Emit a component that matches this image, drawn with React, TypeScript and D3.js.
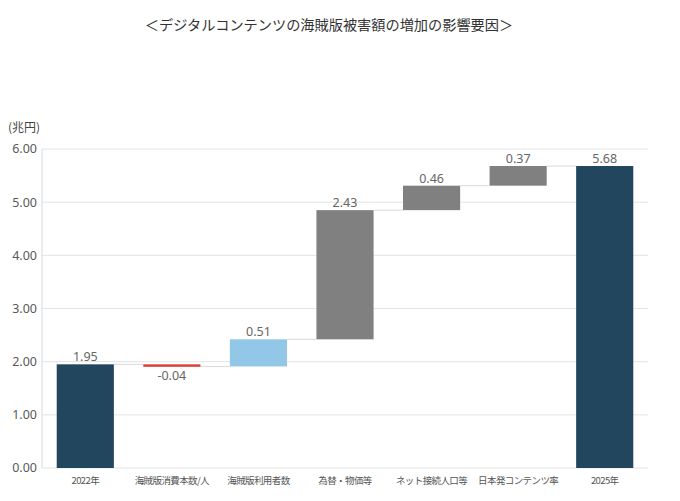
import { useEffect } from "react";
import * as d3 from "d3";

const categories = ["2022年", "海賊版消費本数/人", "海賊版利用者数", "為替・物価等", "ネット接続人口等", "日本発コンテンツ率", "2025年"];
const deltas = [1.95, -0.04, 0.51, 2.43, 0.46, 0.37, 5.68];
const kinds = ["total", "delta", "delta", "delta", "delta", "delta", "total"];
const colors = ["#23465f", "#d9403a", "#92c7e8", "#808080", "#808080", "#808080", "#23465f"];
const yTicks = [0, 1, 2, 3, 4, 5, 6];

const W = 680;
const H = 501;
const margin = { top: 149, right: 32, bottom: 33, left: 42 };

export default function App() {
  useEffect(() => {
    document.body.style.margin = "0";
  }, []);

  const x = d3.scaleBand().domain(categories).range([margin.left, W - margin.right]).paddingInner(0.34).paddingOuter(0.17);
  const y = d3.scaleLinear().domain([0, 6]).range([H - margin.bottom, margin.top]);

  // running total for the floating bars
  let run = 0;
  const bars = categories.map((c, i) => {
    let start: number, end: number;
    if (kinds[i] === "total") {
      start = 0;
      end = deltas[i];
      run = deltas[i];
    } else {
      start = run;
      end = run + deltas[i];
      run = end;
    }
    return { c, i, start, end, v: deltas[i] };
  });

  const font = "'Noto Sans CJK JP', 'Noto Sans', sans-serif";
  const bw = x.bandwidth();

  return (
    <svg width={W} height={H} style={{ display: "block", background: "#fff" }} fontFamily={font}>
      <text x={329} y={30} textAnchor="middle" fontSize={14.2} fill="#333">
        ＜デジタルコンテンツの海賊版被害額の増加の影響要因＞
      </text>
      <text x={8} y={132} fontSize={12} fill="#444">(兆円)</text>
      {yTicks.map((t) => (
        <g key={t}>
          <line x1={margin.left} x2={W - margin.right} y1={y(t)} y2={y(t)} stroke="#e3e3e3" strokeWidth={1} />
          <text x={margin.left - 5} y={y(t)} dy="0.35em" textAnchor="end" fontSize={12.5} fill="#595959" fontFamily="'Noto Sans', sans-serif">
            {t.toFixed(2)}
          </text>
        </g>
      ))}
      <line x1={margin.left} x2={margin.left} y1={y(6)} y2={y(0)} stroke="#d9d9d9" />
      {bars.slice(0, -1).map((b) => {
        const nx = bars[b.i + 1];
        return (
          <line key={"c" + b.i} x1={x(b.c)! + bw} x2={x(nx.c)!} y1={y(b.end)} y2={y(b.end)} stroke="#d9d9d9" strokeWidth={1} />
        );
      })}
      {bars.map((b) => {
        const top = y(Math.max(b.start, b.end));
        const bot = y(Math.min(b.start, b.end));
        const neg = b.v < 0;
        return (
          <g key={b.c}>
            <rect x={x(b.c)} y={top} width={bw} height={Math.max(bot - top, 2.5)} fill={colors[b.i]} />
            <text
              x={x(b.c)! + bw / 2}
              y={neg ? bot + 14 : top - 3}
              textAnchor="middle"
              fontSize={12.5}
              fill="#666"
              fontFamily="'Noto Sans', sans-serif"
            >
              {b.v.toFixed(2)}
            </text>
            <text x={x(b.c)! + bw / 2} y={H - 17} textAnchor="middle" fontSize={9.5} fill="#555" letterSpacing={-0.6}>
              {b.c}
            </text>
          </g>
        );
      })}
    </svg>
  );
}
